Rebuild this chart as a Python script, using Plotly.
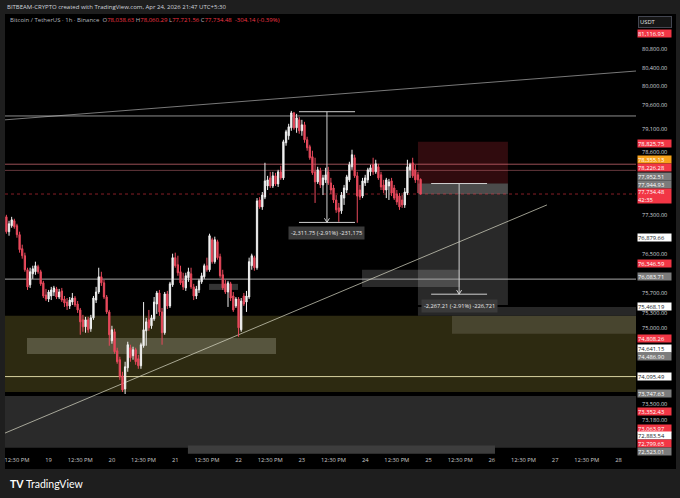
import math
import pandas as pd
import plotly.graph_objects as go

# ---------------- data: BTC/USDT 1h candles ----------------
bar_start = "2026-04-18 08:30"

bar_open = [
    77263, 76957, 77080, 77182, 77080, 76896, 76609, 76466, 76180, 75874,
    76098, 76139, 76242, 76139, 75914, 75669, 75587, 75649, 75730, 75792,
    75628, 75751, 75587, 75527, 75448, 75527, 75608, 75487, 75368, 75169,
    75030, 75169, 74990, 75209, 75567, 75730, 76037, 75914, 75628, 75328,
    74751, 74930, 74552, 74374, 74055, 73797, 74214, 74612, 74453, 74572,
    74393, 74254, 74652, 74950, 75169, 75050, 75189, 75487, 75710, 75328,
    74911, 75690, 75448, 75874, 76426, 76282, 76139, 75955, 75812, 76017,
    76098, 75833, 75649, 75771, 75935, 76037, 76262, 76180, 76793, 76344,
    76752, 76446, 76078, 75894, 75730, 75894, 75649, 75448, 75587, 74970,
    75649, 75527, 75628, 76262, 76426, 76221, 77611, 77468, 77671, 77902,
    78070, 77902, 78112, 77944, 78196, 78070, 78805, 78952, 79120, 79435,
    79120, 79288, 79057, 79183, 78868, 78721, 78511, 78196, 77986, 78217,
    77923, 78028, 78196, 77965, 77860, 77611, 77448, 77386, 77650, 77818,
    78028, 78301, 78490, 78112, 77818, 77692, 77965, 78028, 78196, 78343,
    78196, 78301, 78133, 77923, 77818, 77902, 78007, 77860, 77734, 77692,
    77611, 77509, 77755, 78238, 78385, 78238, 78133, 78038.63,
]
bar_high = [
    77304, 77182, 77263, 77223, 77120, 76957, 76691, 76528, 76221, 76221,
    76262, 76344, 76282, 76180, 75955, 75792, 75771, 75833, 75853, 75833,
    75792, 75812, 75649, 75608, 75628, 75710, 75649, 75547, 75408, 75269,
    75229, 75229, 75269, 75649, 75833, 76221, 76139, 75976, 75669, 75368,
    75050, 74990, 74612, 74433, 74135, 74334, 74731, 74672, 74632, 74612,
    74473, 74712, 75527, 75209, 75368, 75269, 75628, 75751, 75771, 75408,
    75730, 75751, 75935, 76507, 76528, 76466, 76262, 76119, 76119, 76221,
    76221, 75894, 75853, 75996, 76119, 76303, 76426, 76916, 76834, 76855,
    76793, 76507, 76180, 75976, 75955, 75935, 75730, 75628, 75628, 75608,
    75710, 75751, 76426, 76507, 76466, 77650, 77671, 77776, 78385, 78112,
    78196, 78196, 78175, 78238, 78322, 78868, 79078, 79204, 79477, 79456,
    79414, 79351, 79288, 79246, 78931, 78763, 78637, 78490, 78301, 78280,
    78133, 78280, 78301, 78070, 77923, 77713, 77550, 77776, 77923, 78133,
    78406, 78658, 78553, 78196, 77923, 78070, 78133, 78280, 78343, 78490,
    78448, 78364, 78196, 78028, 78070, 78049, 78070, 77923, 77818, 77755,
    77713, 77860, 78448, 78385, 78490, 78343, 78196, 78060.29,
]
bar_low = [
    76916, 76875, 77039, 77018, 76834, 76528, 76405, 76139, 75771, 75812,
    75996, 76078, 76098, 75853, 75608, 75547, 75527, 75567, 75649, 75587,
    75587, 75527, 75428, 75368, 75388, 75468, 75428, 75308, 74871, 74930,
    74911, 74911, 74930, 75169, 75507, 75690, 75853, 75587, 75288, 74652,
    74692, 74493, 74294, 73976, 73737, 73697, 74135, 74334, 74374, 74274,
    74194, 74194, 74612, 74652, 74950, 74990, 75149, 75288, 75249, 74672,
    74871, 75388, 75408, 75833, 76221, 76058, 75874, 75771, 75751, 75935,
    75792, 75567, 75587, 75710, 75894, 75996, 76139, 76139, 76303, 76303,
    76385, 76017, 75771, 75690, 75428, 75547, 75328, 75408, 74831, 74930,
    75448, 75328, 75587, 76180, 76160, 76180, 77427, 77407, 77629, 77818,
    77860, 77860, 77902, 77881, 78028, 78028, 78742, 78868, 79057, 79078,
    79015, 78994, 78952, 78805, 78637, 78448, 78133, 77550, 77944, 77860,
    77713, 77965, 77923, 77734, 77550, 77345, 77161, 77325, 77509, 77755,
    77986, 78238, 78070, 77141, 77611, 77650, 77902, 77965, 78112, 78133,
    78154, 78028, 77818, 77755, 77650, 77611, 77692, 77611, 77509, 77407,
    77448, 77448, 77713, 78070, 78070, 77965, 77755, 77721.56,
]
bar_close = [
    76957, 77120, 77202, 77059, 76896, 76589, 76466, 76180, 75833, 76139,
    76201, 76262, 76139, 75894, 75649, 75587, 75730, 75771, 75812, 75628,
    75730, 75567, 75507, 75448, 75567, 75608, 75468, 75368, 75129, 75030,
    75169, 74970, 75209, 75608, 75730, 76037, 75914, 75628, 75328, 74871,
    74970, 74533, 74334, 74035, 73777, 74234, 74672, 74413, 74572, 74334,
    74254, 74672, 74970, 75129, 75010, 75209, 75527, 75710, 75328, 74911,
    75690, 75448, 75894, 76426, 76262, 76119, 75914, 75833, 76058, 76139,
    75833, 75649, 75792, 75955, 76058, 76262, 76180, 76875, 76344, 76793,
    76426, 76058, 75812, 75730, 75914, 75608, 75368, 75587, 75010, 75547,
    75487, 75649, 76344, 76466, 76221, 77591, 77468, 77713, 78007, 78028,
    77902, 78112, 77944, 78196, 78070, 78826, 79036, 79141, 79435, 79120,
    79330, 79057, 79183, 78868, 78700, 78490, 78175, 77986, 78238, 77923,
    78070, 78133, 77965, 77818, 77611, 77407, 77366, 77713, 77860, 78091,
    78343, 78553, 78112, 77692, 77671, 78007, 78070, 78238, 78280, 78196,
    78364, 78070, 77881, 77818, 78028, 77986, 77755, 77650, 77570, 77468,
    77509, 77776, 78301, 78343, 78112, 78028, 78028, 77734.48,
]

# x-axis tick labels
tick_times = ["2026-04-18 12:30"] + [
    f"2026-04-{d:02d} {h}" for d in range(19, 29) for h in ("00:30", "12:30")
][:-1]
tick_text = ["12:30 PM"] + [
    (str(d) if h == "00:30" else "12:30 PM") for d in range(19, 29) for h in ("00:30", "12:30")
][:-1]

# price axis ticks
ytick_vals = [80800, 80400, 80000, 79600, 79100, 78600, 77300, 76500, 75700,
              75300, 75000, 73500, 73180]
ytick_text = [f"{v:,.2f}" for v in ytick_vals]

# drawing levels (prices)
level_top_grey = 79370
level_pink_a = 78355.13
level_pink_b = 78226.28
last_price = 77734.48
level_mid_grey = 75990
level_yellow = 74040
olive_zone = (73737, 75250)
olive_left = (74486.90, 74808.26)
olive_right = (74891, 75250)
dark_strip = (75250, 75428)
lower_grey_zone = (72650, 73658)
bottom_bar = (72534, 72690)
grey_box_a = (75833, 76180)
grey_box_b = (75771, 75894)
pos_entry, pos_stop, pos_target = 77952.51, 78825.75, 75468.19
m1_top, m1_bottom = 79460.0, 77148.25
m2_top, m2_bottom = 77952.51, 75685.30
m1_text = "-2,311.75 (-2.91%) -231,175"
m2_text = "-2,267.21 (-2.91%) -226,721"
diag_top = (79288, 80327)
diag_low = (72933, 77509)

# ---------------- figure ----------------
times = pd.date_range(bar_start, periods=len(bar_open), freq="h")
base = pd.Timestamp(bar_start)
X_START = base + pd.Timedelta(hours=-0.53)
X_END = base + pd.Timedelta(hours=238.65)
Y_BOTTOM, Y_TOP = 72527, 81558

RED = "#f23645"
fig = go.Figure()
fig.add_trace(go.Candlestick(
    x=times, open=bar_open, high=bar_high, low=bar_low, close=bar_close,
    increasing=dict(line=dict(color="#f0f0f0", width=1), fillcolor="#f4f4f4"),
    decreasing=dict(line=dict(color="#e8495c", width=1), fillcolor="#e8495c"),
    whiskerwidth=0, showlegend=False, hoverinfo="skip",
))

shapes = []
W, H = 680, 498
L, R, T, B = 5, 44, 14, 44
PW, PH = W - L - R, H - T - B


def px(x):
    return (x - L) / PW


def py(y):
    return (H - B - y) / PH


def T_(s):
    return pd.Timestamp(s)


# black chart canvas (incl. axis areas)
shapes.append(dict(type="rect", xref="paper", yref="paper", x0=px(5), x1=px(676),
                   y0=py(469), y1=py(14), fillcolor="#000000", line_width=0, layer="below"))


def rect(x0, x1, y0, y1, color, layer="below"):
    shapes.append(dict(type="rect", xref="x", yref="y", x0=x0, x1=x1, y0=y0, y1=y1,
                       fillcolor=color, line_width=0, layer=layer))


def line(x0, y0, x1, y1, color, width=1, dash="solid", layer="below"):
    shapes.append(dict(type="line", xref="x", yref="y", x0=x0, y0=y0, x1=x1, y1=y1,
                       line=dict(color=color, width=width, dash=dash), layer=layer))


# zones
rect(X_START, X_END, lower_grey_zone[0], lower_grey_zone[1], "#2a2a2a")
rect(T_("2026-04-21 05:18"), T_("2026-04-26 01:42"), bottom_bar[0], bottom_bar[1], "#3d3d3d")
rect(X_START, X_END, olive_zone[0], olive_zone[1], "#2d2a11")
rect(T_("2026-04-18 16:18"), T_("2026-04-22 14:42"), olive_left[0], olive_left[1], "#57553e")
rect(T_("2026-04-25 09:24"), X_END, olive_right[0], olive_right[1], "#48452f")
rect(T_("2026-04-24 20:30"), X_END, dark_strip[0], dark_strip[1], "#272727")
rect(T_("2026-04-21 13:18"), T_("2026-04-22 00:18"), grey_box_b[0], grey_box_b[1], "rgba(150,150,150,0.35)")
rect(T_("2026-04-23 23:18"), T_("2026-04-25 12:24"), grey_box_a[0], grey_box_a[1], "rgba(150,150,150,0.28)")
# short position tool
p0, p1 = T_("2026-04-24 20:30"), T_("2026-04-26 06:36")
rect(p0, p1, pos_entry, pos_stop, "rgba(242,54,69,0.2)")
rect(p0, p1, pos_target, pos_entry, "rgba(255,255,255,0.16)")
rect(p0, p1, last_price, pos_entry, "rgba(255,255,255,0.16)")

# horizontal levels
line(X_START, level_top_grey, X_END, level_top_grey, "#8e8e8e", 1)
line(X_START, level_pink_a, X_END, level_pink_a, "rgba(235,120,130,0.65)", 1)
line(X_START, level_pink_b, X_END, level_pink_b, "rgba(200,110,120,0.5)", 1)
line(X_START, last_price, X_END, last_price, "rgba(242,54,69,0.55)", 1, "dot")
line(X_START, level_mid_grey, X_END, level_mid_grey, "#a8a8a8", 1)
line(X_START, level_yellow, X_END, level_yellow, "#d8d2a0", 1)
# trend lines
line(X_START, diag_top[0], X_END, diag_top[1], "rgba(200,200,200,0.6)", 1)
line(X_START, diag_low[0], T_("2026-04-26 21:24"), diag_low[1], "rgba(220,220,200,0.7)", 1)


# measure tools
def measure(xa, xb, xc, top, bottom):
    xa, xb, xc = T_(xa), T_(xb), T_(xc)
    c = "#d0d0d0"
    line(xa, top, xb, top, c, 1, layer="above")
    line(xa, bottom, xb, bottom, c, 1, layer="above")
    line(xc, top, xc, bottom, c, 1, layer="above")
    wing = bottom * 1.0011
    line(xc - pd.Timedelta(minutes=57), wing, xc, bottom, c, 1, layer="above")
    line(xc + pd.Timedelta(minutes=57), wing, xc, bottom, c, 1, layer="above")


measure("2026-04-22 23:24", "2026-04-23 20:39", "2026-04-23 10:00", m1_top, m1_bottom)
measure("2026-04-25 01:30", "2026-04-25 22:42", "2026-04-25 12:06", m2_top, m2_bottom)

ann = []
FONT = "Open Sans"
for xs, yp, txt in [("2026-04-23 10:00", 76936, m1_text), ("2026-04-25 12:06", 75448, m2_text)]:
    ann.append(dict(x=T_(xs), y=math.log10(yp), xref="x", yref="y", text=txt, showarrow=False,
                    font=dict(family=FONT, size=5.7, color="#e8e8e8"), bgcolor="#3a3a3a",
                    borderpad=2, xanchor="center", yanchor="middle"))

# header / legend / footer
ann.append(dict(x=px(5), y=py(7), xref="paper", yref="paper", xanchor="left", yanchor="middle",
                showarrow=False, font=dict(family=FONT, size=6, color="#d1d4dc"),
                text="BITBEAM-CRYPTO created with TradingView.com, Apr 24, 2026 21:47 UTC+5:30"))
g, r = "#b2b5be", "#f23645"
legend = (f"<span style='color:{g}'>Bitcoin / TetherUS · 1h · Binance  O</span>"
          f"<span style='color:{r}'>78,038.63</span><span style='color:{g}'> H</span>"
          f"<span style='color:{r}'>78,060.29</span><span style='color:{g}'> L</span>"
          f"<span style='color:{r}'>77,721.56</span><span style='color:{g}'> C</span>"
          f"<span style='color:{r}'>77,734.48  -304.14 (-0.39%)</span>")
ann.append(dict(x=px(8), y=py(20), xref="paper", yref="paper", xanchor="left", yanchor="middle",
                showarrow=False, font=dict(family=FONT, size=6), text=legend))
ann.append(dict(x=px(8), y=py(484), xref="paper", yref="paper", xanchor="left", yanchor="middle",
                showarrow=False, font=dict(family="Lato", size=10.5, color="#ffffff"),
                text="<b>TV</b> TradingView"))
ann.append(dict(x=px(655), y=py(22), xref="paper", yref="paper", xanchor="center", yanchor="middle",
                showarrow=False, font=dict(family=FONT, size=5.8, color="#e0e0e0"), text="USDT",
                bgcolor="#161616", bordercolor="#434651", borderwidth=1, width=30, height=8,
                align="left"))

# right-axis price labels
WHITE, GREY, ORANGE = "#ffffff", "#7c7c7c", "#f7a21b"
axis_labels = [
    ("81,116.93", RED, 34), ("78,825.75", RED, 143), ("78,355.13", ORANGE, 159.8),
    ("78,226.28", RED, 167.3), ("77,952.51", GREY, 176), ("77,944.93", GREY, 184),
    ("77,734.48<br>42:35", RED, 196), ("76,879.66", WHITE, 237), ("76,346.59", RED, 263),
    ("76,083.71", GREY, 276), ("75,468.19", WHITE, 306), ("74,808.26", RED, 338),
    ("74,641.15", WHITE, 348), ("74,486.90", GREY, 356), ("74,095.49", WHITE, 376),
    ("73,747.63", GREY, 393), ("73,352.43", RED, 411), ("73,063.97", RED, 428),
    ("72,883.54", WHITE, 435.5), ("72,799.65", RED, 443.5), ("72,523.01", GREY, 451.5),
]
for txt, bg, ypx in axis_labels:
    fg = "#131722" if bg == WHITE else "#ffffff"
    two = "<br>" in txt
    ann.append(dict(x=px(654), y=py(ypx), xref="paper", yref="paper", xanchor="center",
                    yanchor="middle", showarrow=False, text=txt, bgcolor=bg,
                    font=dict(family=FONT, size=5.8, color=fg), width=33,
                    height=14 if two else 7, borderpad=0, align="left"))

fig.update_layout(
    width=W, height=H, margin=dict(l=L, r=R, t=T, b=B),
    paper_bgcolor="#1e1e1e", plot_bgcolor="#000000",
    shapes=shapes, annotations=ann, showlegend=False, hovermode=False,
    xaxis=dict(type="date", range=[X_START, X_END], rangeslider=dict(visible=False),
               tickvals=[T_(t) for t in tick_times], ticktext=tick_text,
               tickfont=dict(family=FONT, size=5.8, color="#c8c8c8"),
               showgrid=False, zeroline=False, showline=False, ticks="", ticklabelstandoff=1),
    yaxis=dict(type="log", side="right", range=[math.log10(Y_BOTTOM), math.log10(Y_TOP)],
               tickvals=ytick_vals, ticktext=ytick_text,
               tickfont=dict(family=FONT, size=5.6, color="#d1d4dc"),
               showgrid=False, zeroline=False, showline=False, ticks="", ticklabelstandoff=5),
)
fig.write_html(
    "out.html",
    config={"displayModeBar": False},
    post_script="document.body.style.margin='0px';document.body.style.background='#1e1e1e';",
)
